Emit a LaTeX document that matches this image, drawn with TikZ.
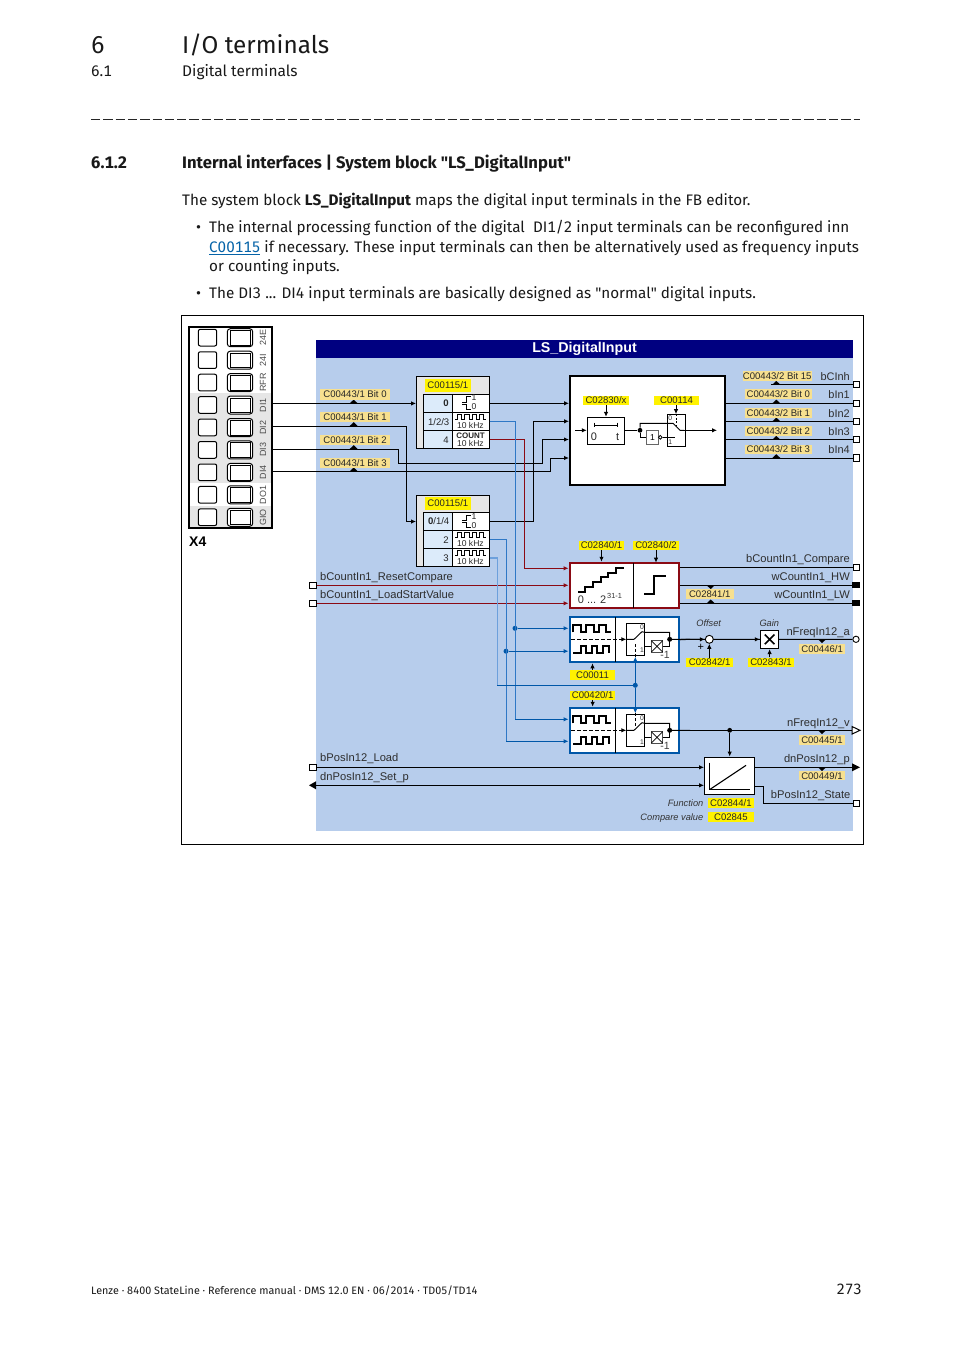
\documentclass[tikz,border=0pt]{standalone}
\usepackage{fontspec}
\setmainfont[Numbers=Monospaced]{Fira Sans}
\newfontfamily\plainq{Fira Sans}
\newfontfamily\ar{Liberation Sans}
\usetikzlibrary{arrows.meta}
\definecolor{bgblue}{HTML}{B7CDEC}
\definecolor{navyhead}{HTML}{000080}
\definecolor{paleyel}{HTML}{F7E08F}
\definecolor{cellblue}{HTML}{DCEBFA}
\definecolor{greyband}{HTML}{E6E6E6}
\definecolor{bdark}{HTML}{0057A8}
\definecolor{bmid}{HTML}{2F78C6}
\definecolor{blight}{HTML}{6DA0DC}
\definecolor{rdark}{HTML}{8B0A14}
\definecolor{linkblue}{HTML}{0563A8}
\tikzset{
  tipin/.style={-{Latex[length=5bp,width=4.5bp]}},
  wire/.style={line width=1bp,draw=black},
  bwire/.style={line width=1bp,draw=bdark},
  mwire/.style={line width=1bp,draw=bmid},
  lwire/.style={line width=1.3bp,draw=blight},
  rwire/.style={line width=1bp,draw=rdark},
  port/.style={draw=black,fill=white,line width=.9bp,minimum size=6.3bp,inner sep=0pt},
  fillport/.style={fill=black,minimum width=7.5bp,minimum height=5.5bp,inner sep=0pt},
  roundport/.style={circle,draw=black,fill=white,line width=.9bp,minimum size=6.3bp,inner sep=0pt},
  junction/.style={circle,fill=black,minimum size=4.8bp,inner sep=0pt},
  bjunction/.style={circle,fill=bdark,minimum size=5bp,inner sep=0pt},
  sig/.style={inner sep=0pt,font=\ar\fontsize{11.2}{12}\selectfont,text=black!82},
  sigl/.style={sig,anchor=base west},
  sigr/.style={sig,anchor=base east},
  ital/.style={inner sep=0pt,font=\ar\itshape\fontsize{9.3}{11}\selectfont,text=black!80},
  lab/.style={inner sep=0pt,font=\ar\fontsize{9.6}{11}\selectfont,text=black!85,text height=6.9bp,text depth=0pt},
  ctext/.style={inner sep=0pt,font=\ar\fontsize{8.6}{10}\selectfont,text=black!85},
  numtxt/.style={inner sep=0pt,anchor=base east,font=\ar\fontsize{9.6}{11}\selectfont,text=black!85},
  term/.style={inner sep=0pt,rotate=90,font=\ar\fontsize{9}{10}\selectfont,text=black!70},
  body/.style={inner sep=0pt,anchor=base west,font=\fontsize{15.3}{18}\selectfont,text=black!90},
}
\newcommand{\yl}[7][yellow]{% name x1 x2 y1 y2 text
  \pgfmathsetmacro\cxx{(#3+#4)/2}\pgfmathsetmacro\cyy{(#5+#6)/2}%
  \pgfmathsetmacro\www{#4-#3}\pgfmathsetmacro\hhh{#6-#5}%
  \node[lab,fill=#1,minimum width=\www bp,minimum height=\hhh bp] (#2) at (\cxx,\cyy) {#7};}
\newcommand{\triup}[2]{\fill[black] (#1-4,#2) -- (#1,#2-3.8) -- (#1+4,#2) -- cycle;}
\newcommand{\tridn}[2]{\fill[black] (#1-4,#2) -- (#1,#2+3.8) -- (#1+4,#2) -- cycle;}
% configuration box: name, y offset
\newcommand{\cfgbox}[3]{%
  \node[draw=black,fill=greyband,line width=.9bp,minimum width=73bp,minimum height=71.6bp,inner sep=0pt] (#1) at (453,412.5+#2) {};
  \begin{scope}[shift={(0,#2)}]
    \fill[cellblue] (423.3,394.3) rectangle (452.3,448.3);
    \fill[white] (452.3,394.3) rectangle (489.7,448.3);
    \draw[line width=.9bp] (423.3,394.3) rectangle (489.7,448.3);
    \draw[line width=.9bp] (423.3,412.3) -- (489.7,412.3) (423.3,430.3) -- (489.7,430.3) (452.3,394.3) -- (452.3,448.3);
    \begin{scope}[shift={(410,370)},x=.33333bp,y=-.33333bp]
      \draw[line width=.9bp] (157,97) -- (170,97) -- (170,80) -- (182,80) (157,103) -- (170,103) -- (170,118) -- (182,118);
      \node[inner sep=0pt,font=\ar\fontsize{8.6}{10}\selectfont,text=black!85] (#1one) at (192,83) {1};
      \node[inner sep=0pt,font=\ar\fontsize{8.6}{10}\selectfont,text=black!85] (#1zero) at (192,111) {0};
    \end{scope}
  \end{scope}}
\newcommand{\pulseicon}[2]{%
  \begin{scope}[shift={(410,370+#2)},x=.33333bp,y=-.33333bp]
    \draw[line width=1bp] (135,147) -- (141,147) -- (141,133) -- (155,133) -- (155,147) -- (162,147) -- (162,133) -- (178,133) -- (178,147) -- (186,147) -- (186,133) -- (200,133) -- (200,147) -- (207,147) -- (207,133) -- (220,133) -- (220,147) -- (228,147);
  \end{scope}
  \node[ctext] (#1) at (470.4,425.3+#2) {10 kHz};}
% inner drawing of a blue block, zoom coordinates
\newcommand{\sigblock}[2]{%
  \begin{scope}[shift={(490,530+#1)},x=.33333bp,y=-.33333bp]
    \draw[line width=.9bp] (377,262) -- (377,396);
    \draw[line width=2bp] (249,307) -- (249,285) -- (272,285) -- (272,307) -- (288,307) -- (288,285) -- (312,285) -- (312,307) -- (328,307) -- (328,285) -- (347,285) -- (347,307) -- (362,307);
    \draw[line width=2bp] (249,369) -- (272,369) -- (272,349) -- (288,349) -- (288,369) -- (305,369) -- (305,349) -- (322,349) -- (322,369) -- (338,369) -- (338,349) -- (358,349) -- (358,369);
    \draw[line width=.9bp,dash pattern=on 4bp off 2bp] (243,328) -- (395,328);
    \draw[line width=.9bp,tipin] (395,328) -- (409,328);
    \draw[line width=.9bp,fill=white] (409,280) rectangle (464,376);
    \draw[line width=.9bp] (409,328) -- (432,328) -- (456,305) -- (464,307) -- (539,307) -- (539,328) -- (600,328);
    \draw[line width=.9bp] (464,348) -- (484,348) (518,348) -- (539,348) -- (539,328);
    \draw[line width=1bp,draw=black!70,fill=white] (484,332) rectangle (518,366);
    \draw[line width=.8bp] (484,332) -- (518,366) (484,366) -- (518,332);
    \fill (539,328) circle (7.5);
    \node[inner sep=0pt,font=\ar\fontsize{6.8}{8}\selectfont,text=black!80] (#2z) at (456,292) {0};
    \node[inner sep=0pt,font=\ar\fontsize{6.8}{8}\selectfont,text=black!80] (#2o) at (456,362) {1};
    \node[inner sep=0pt,font=\ar\fontsize{10.5}{12}\selectfont,text=black!75] (#2m) at (525,376) {-1};
  \end{scope}}
\begin{document}
\begin{tikzpicture}[x=1bp,y=-1bp,line join=miter]
\useasboundingbox (0,0) rectangle (954,1350);
\fill[white] (0,0) rectangle (954,1350);
% ---------- page text
\node[body,font=\fontsize{24.4}{30}\selectfont] (chapn) at (91,54) {6};
\node[body,font=\fontsize{24.4}{30}\selectfont] (chapt) at (182,54) {I/O terminals};
\node[body] (secn) at (91,77) {6.1};
\node[body,font=\fontsize{15.5}{18}\selectfont] (sect) at (182,77) {Digital terminals};
\draw[line width=1bp,black!85,dash pattern=on 9.3bp off 3bp] (91,120) -- (860,120);
\node[body,font=\bfseries\fontsize{16.7}{18}\selectfont] (subn) at (91,169) {6.1.2};
\node[body,font=\bfseries\fontsize{16.7}{18}\selectfont] (subt) at (182,169) {Internal interfaces | System block {\plainq\bfseries "}LS\_DigitalInput{\plainq\bfseries "}};
\node[body] (p1) at (182,206) {The system block \textbf{LS\_DigitalInput} maps the digital input terminals in the FB editor.};
\node[body] (b1) at (196,233) {•};
\node[body] (p2) at (209,233) {The internal processing function of the digital\ \ DI1/2 input terminals can be reconfigured inn};
\node[body] (p3) at (209,252.5) {\textcolor{linkblue}{\underline{C00115}} if necessary. These input terminals can then be alternatively used as frequency inputs};
\node[body] (p4) at (209,271) {or counting inputs.};
\node[body] (b2) at (196,298) {•};
\node[body] (p5) at (209,298) {The DI3 ... DI4 input terminals are basically designed as {\plainq "}normal{\plainq "} digital inputs.};
\node[body,font=\fontsize{10.8}{13}\selectfont] (foot) at (91,1294) {Lenze · 8400 StateLine · Reference manual · DMS 12.0 EN · 06/2014 · TD05/TD14};
\node[body,anchor=base east,font=\fontsize{15}{18}\selectfont] (pageno) at (862,1294) {273};
% ---------- frame and background
\draw[line width=1bp] (181.5,315.5) rectangle (863.5,844.5);
\fill[bgblue] (316,340) rectangle (853,831);
\node[fill=navyhead,minimum width=537bp,minimum height=18bp,inner sep=0pt,text=white,font=\ar\bfseries\fontsize{14.3}{16}\selectfont] (head) at (584.5,349) {LS\_DigitalInput};
% ---------- terminal strip
\fill[greyband] (189,393) rectangle (272,483);
\fill[greyband] (189,506) rectangle (272,528);
\foreach \i/\lbl in {0/24E,1/24I,2/RFR,3/DI1,4/DI2,5/DI3,6/DI4,7/DO1,8/GIO}{
  \begin{scope}[shift={(0,22.45*\i)}]
    \draw[line width=1bp,fill=white,rounded corners=2bp] (198.3,329.3) rectangle (216.7,346);
    \draw[line width=1bp,fill=white,rounded corners=3bp] (227.3,328.7) rectangle (252.7,346.7);
    \draw[line width=1bp] (230,330.7) rectangle (250,345.3);
    \node[term] (t\lbl) at (263,337.7) {\lbl};
  \end{scope}}
\node[draw=black,line width=2bp,minimum width=82.5bp,minimum height=200.5bp,inner sep=0pt] (strip) at (230.4,427.3) {};
\node[inner sep=0pt,anchor=base west,font=\ar\bfseries\fontsize{14}{16}\selectfont] (xfour) at (189,546) {X4};
% ---------- coordinates
\coordinate (oDIa) at (272.5,403.4);
\coordinate (oDIb) at (272.5,426);
\coordinate (oDIc) at (272.5,449);
\coordinate (oDId) at (272.5,471.3);
% blocks (nodes)
\cfgbox{boxa}{0}{}
\cfgbox{boxb}{118.4}{}
\node[draw=black,fill=white,line width=2bp,minimum width=155bp,minimum height=109bp,inner sep=0pt] (main) at (647.5,430.5) {};
\node[draw=rdark,fill=white,line width=2bp,minimum width=109.5bp,minimum height=45.5bp,inner sep=0pt] (redb) at (624.3,585.5) {};
\node[draw=bdark,fill=white,line width=2bp,minimum width=109.5bp,minimum height=45.5bp,inner sep=0pt] (fa) at (624.3,639.5) {};
\node[draw=bdark,fill=white,line width=2bp,minimum width=109.5bp,minimum height=45.5bp,inner sep=0pt] (fb) at (624.3,730.5) {};
\node[draw=black,fill=white,line width=1.4bp,minimum width=50bp,minimum height=37.5bp,inner sep=0pt] (intg) at (729.7,776) {};
% ---------- ports
\node[port] (pInh) at (856.3,384.7) {};
\node[port] (pI1) at (856.3,403.4) {};
\node[port] (pI2) at (856.3,421.4) {};
\node[port] (pI3) at (856.3,439.7) {};
\node[port] (pI4) at (856.3,458) {};
\node[port] (pCmp) at (856.3,567.3) {};
\node[fillport] (pHW) at (856,585) {};
\node[fillport] (pLW) at (856,603) {};
\node[roundport] (pFa) at (856,639.3) {};
\node[port] (pSt) at (856.3,803.3) {};
\node[port] (pRes) at (313,585.3) {};
\node[port] (pLoad) at (313,603.3) {};
\node[port] (pPl) at (313,767.3) {};
\coordinate (pSet) at (316,785.3);
\coordinate (pFv) at (852,730.3);
\coordinate (pDn) at (852,767.3);
\coordinate (sInh) at (771,384.7);
% ---------- wires
\draw[wire,tipin] (oDIa) -- (boxa.west |- oDIa);
\coordinate (kb1) at (406.7,426);
\coordinate (kb2) at (406.7,521.5);
\draw[wire,tipin] (oDIb) -- (kb1) -- (kb2) -- (boxb.west |- kb2);
\coordinate (kc1) at (398,449);
\coordinate (kc2) at (398,463.3);
\coordinate (kc3) at (542.3,463.3);
\coordinate (kc4) at (542.3,439.5);
\draw[wire,tipin] (oDIc) -- (kc1) -- (kc2) -- (kc3) -- (kc4) -- (main.west |- kc4);
\coordinate (kd1) at (550,471.3);
\coordinate (kd2) at (550,458);
\draw[wire,tipin] (oDId) -- (kd1) -- (kd2) -- (main.west |- kd2);
\coordinate (ra) at (489.7,403.3);
\draw[wire,tipin] (ra) -- (main.west |- ra);
\coordinate (rb0) at (489.7,521.5);
\coordinate (rb1) at (533.3,521.5);
\coordinate (rb2) at (533.3,421.3);
\draw[wire,tipin] (rb0) -- (rb1) -- (rb2) -- (main.west |- rb2);
% red
\coordinate (ca0) at (489.7,439.4);
\coordinate (ca1) at (524.3,439.4);
\coordinate (ca2) at (524.3,568.3);
\draw[rwire,tipin] (ca0) -- (ca1) -- (ca2) -- (redb.west |- ca2);
\draw[rwire,tipin] (pRes) -- (redb.west |- pRes);
\draw[rwire,tipin] (pLoad) -- (redb.west |- pLoad);
% blue
\coordinate (ba0) at (489.7,421.7);
\coordinate (ba1) at (515,421.7);
\coordinate (ba3) at (515,719.3);
\node[bjunction] (ja) at (515,628.3) {};
\draw[mwire] (ba0) -- (ba1) -- (ba3);
\draw[bwire,tipin] (ba3) -- (fb.west |- ba3);
\draw[bwire,tipin] (ja) -- (fa.west |- ja);
\coordinate (bb0) at (489.7,539.9);
\coordinate (bb1) at (506,539.9);
\coordinate (bb3) at (506,741.3);
\node[bjunction] (jb) at (506,651.2) {};
\draw[mwire] (bb0) -- (bb1) -- (bb3);
\draw[bwire,tipin] (bb3) -- (fb.west |- bb3);
\draw[bwire,tipin] (jb) -- (fa.west |- jb);
\coordinate (bc0) at (489.7,557.9);
\coordinate (bc1) at (497.3,557.9);
\coordinate (bc2) at (497.3,685.3);
\node[bjunction] (jc) at (635.3,685.3) {};
\draw[lwire] (bc0) -- (bc1) -- (bc2);
\draw[bwire] (bc2) -- (jc);
% outputs
\draw[wire] (sInh) -- (pInh);
\draw[wire] (main.east |- pI1) -- (pI1);
\draw[wire] (main.east |- pI2) -- (pI2);
\draw[wire] (main.east |- pI3) -- (pI3);
\draw[wire] (main.east |- pI4) -- (pI4);
\draw[wire] (redb.east |- pCmp) -- (pCmp);
\draw[wire] (redb.east |- pHW) -- (pHW);
\draw[wire] (redb.east |- pLW) -- (pLW);
\draw[wire] (fa.east) -- (pFa);
\draw[wire] (fb.east |- pFv) -- (pFv);
\node[junction] (jv) at (729.7,730.3) {};
\draw[wire,tipin] (jv) -- (intg.north);
\draw[wire,tipin] (pPl) -- (intg.west |- pPl);
\draw[wire,tipin] (pSet) -- (intg.west |- pSet);
\fill (316,781.3) -- (309,785.3) -- (316,789.3) -- cycle;
\draw[wire] (intg.east |- pDn) -- (pDn);
\fill (852,763.3) -- (860,767.3) -- (852,771.3) -- cycle;
\draw[wire,fill=white] (852,726.5) -- (860,730.3) -- (852,734.1) -- cycle;
\coordinate (s1) at (763.7,786);
\coordinate (s2) at (763.7,803.3);
\draw[wire] (intg.east |- s1) -- (s1) -- (s2) -- (pSt);
% ---------- triangles
\foreach \yy in {403.4,426,449,471.3}{\triup{353.7}{\yy}}
\foreach \yy in {384.7,403.4,421.4,439.7,458}{\triup{776.3}{\yy}}
\tridn{710.7}{585.3}
\triup{710.7}{603.3}
\tridn{822}{639.3}
\tridn{822}{730.3}
\tridn{822}{767.3}
% ---------- labels
\yl[paleyel]{la}{320}{390}{389}{399.6}{C00443/1 Bit 0}
\yl[paleyel]{lb}{320}{390}{412}{422.4}{C00443/1 Bit 1}
\yl[paleyel]{lc}{320}{390}{435}{445}{C00443/1 Bit 2}
\yl[paleyel]{ld}{320}{390}{457.7}{468}{C00443/1 Bit 3}
\yl{cfa}{425}{470.7}{378.5}{391.5}{C00115/1}
\yl{cfb}{425}{470.7}{496.7}{509.7}{C00115/1}
\yl[paleyel]{ri}{742.7}{811.7}{371.3}{380.7}{C00443/2 Bit 15}
\yl[paleyel]{ra}{745}{811.7}{389.3}{399}{C00443/2 Bit 0}
\yl[paleyel]{rb}{745}{811.7}{408}{417.6}{C00443/2 Bit 1}
\yl[paleyel]{rc}{745}{811.7}{426.3}{436}{C00443/2 Bit 2}
\yl[paleyel]{rd}{745}{811.7}{444.7}{454.3}{C00443/2 Bit 3}
% cfg box texts
\node[numtxt] (ta) at (449,406.5) {\textbf{0}};
\node[numtxt] (tb) at (449.5,425) {1/2/3};
\node[numtxt] (tc) at (449,443) {4};
\pulseicon{tka}{0}
\node[ctext,font=\ar\bfseries\fontsize{8}{10}\selectfont] (tcnt) at (470.5,435.3) {COUNT};
\node[ctext] (tkz) at (470.4,443) {10 kHz};
\node[numtxt] (td) at (449.5,524.5) {\textbf{0}/1/4};
\node[numtxt] (te) at (449,543) {2};
\node[numtxt] (tf) at (449,561) {3};
\pulseicon{tkb}{118}
\pulseicon{tkc}{136}
% main block interior
\yl{ct}{583}{629}{395.7}{405}{C02830/x}
\yl{cs}{654}{699}{395.7}{405}{C00114}
\node[draw=black,fill=white,line width=.9bp,minimum width=37.4bp,minimum height=27bp,inner sep=0pt] (timer) at (606,430.8) {};
\draw[wire,tipin] (606,405) -- (timer.north);
\coordinate (tin) at (575,430.3);
\draw[wire,tipin] (tin) -- (timer.west |- tin);
\draw[line width=.9bp] (594,425) -- (617.7,425) (594,422.6) -- (594,427.4) (617.7,422.6) -- (617.7,427.4);
\node[inner sep=0pt,font=\ar\fontsize{11}{12}\selectfont,text=black!85] (t0) at (594,436.5) {0};
\node[inner sep=0pt,font=\ar\fontsize{11}{12}\selectfont,text=black!85] (tt) at (617.7,436.5) {t};
\node[draw=black,fill=white,line width=.9bp,minimum width=18.4bp,minimum height=32.4bp,inner sep=0pt] (sw) at (676.5,430.5) {};
\node[junction] (jt) at (640,430.3) {};
\draw[wire] (timer.east |- jt) -- (jt);
\draw[wire] (jt) -- (640,423.3) -- (673,423.3) -- (680,430.3) -- (684,430.3);
\coordinate (sout) at (717,430.3);
\draw[wire,tipin] (684,430.3) -- (sout);
\node[draw=black!60,fill=white,line width=1bp,minimum width=11.6bp,minimum height=13.6bp,inner sep=0pt,font=\ar\fontsize{8.6}{10}\selectfont] (nt) at (652.5,437.5) {1};
\draw[wire] (jt) -- (640,437.3) -- (nt.west |- 0,437.3);
\node[circle,draw=black,fill=white,line width=.8bp,minimum size=3.8bp,inner sep=0pt] (nc) at (660.3,437.3) {};
\draw[wire] (nc) -- (674.7,437.3);
\draw[wire,tipin] (676,405) -- (676,414.2);
\draw[line width=.9bp,dash pattern=on 2bp off 1.6bp] (676,414.2) -- (676,425.5);
\node[inner sep=0pt,font=\ar\fontsize{6.8}{8}\selectfont,text=black!80] (s0) at (670.3,418.3) {0};
\node[inner sep=0pt,font=\ar\fontsize{6.8}{8}\selectfont,text=black!80] (s1t) at (670.3,442.5) {1};
% red block interior
\yl{cq}{579.3}{623.7}{541}{549.7}{C02840/1}
\yl{cr}{633.3}{678.7}{541}{549.7}{C02840/2}
\draw[wire,tipin] (cq.south) -- (cq.south |- redb.north);
\draw[wire,tipin] (656,549.7) -- (656,562.7);
\begin{scope}[shift={(490,530)},x=.33333bp,y=-.33333bp]
  \draw[line width=.9bp] (431,98) -- (431,235);
  \draw[line width=2bp] (264,187) -- (285,187) -- (285,172) -- (308,172) -- (308,157) -- (332,157) -- (332,142) -- (355,142) -- (355,128) -- (378,128) -- (378,115) -- (402,115);
  \draw[line width=2bp] (462,191) -- (493,191) -- (493,137) -- (527,137);
  \node[inner sep=0pt,anchor=base west,font=\ar\fontsize{11}{12}\selectfont,text=black!80] (rng) at (263,220) {0 ... 2};
  \node[inner sep=0pt,anchor=base west,font=\ar\fontsize{7.4}{9}\selectfont,text=black!80] (rngs) at (351,205) {31-1};
\end{scope}
\yl[paleyel]{cw}{686}{733.6}{589.3}{598.7}{C02841/1}
% blue blocks interior
\sigblock{0}{fai}
\sigblock{91}{fbi}
\yl{co}{570}{615}{670}{679.7}{C00011}
\yl{cu}{570.3}{615}{690.7}{699.7}{C00420/1}
\draw[wire,tipin] (cu.south) -- (cu.south |- fb.north);
\draw[wire,tipin] (co.north) -- (co.north |- fa.south);
\coordinate (ju) at (635.3,656.7);
\coordinate (jd) at (635.3,713.3);
\draw[bwire,tipin] (jc) -- (ju);
\draw[bwire,tipin] (jc) -- (jd);
\draw[line width=.9bp,dash pattern=on 3bp off 2bp] (635.3,656.7) -- (635.3,643);
\draw[line width=.9bp,dash pattern=on 3bp off 2bp] (635.3,713.3) -- (635.3,728);
% offset & gain
\node[circle,draw=black,fill=white,line width=.9bp,minimum size=8bp,inner sep=0pt] (off) at (709.3,639.3) {};
\node[draw=black,fill=white,line width=1bp,minimum width=18.6bp,minimum height=18.6bp,inner sep=0pt] (gain) at (769.6,639.3) {};
\draw[line width=1.6bp] (764.8,634.5) -- (774.4,644.1) (764.8,644.1) -- (774.4,634.5);
\draw[wire,tipin] (fa.east) -- (off);
\draw[wire,tipin] (off) -- (gain);
\draw[wire] (gain) -- (pFa);
\node[inner sep=0pt,font=\ar\fontsize{11}{12}\selectfont] (plus) at (700.7,647.5) {+};
\yl{cg}{686}{733.3}{657.5}{667.2}{C02842/1}
\yl{ch}{748.3}{793.7}{657.5}{667.2}{C02843/1}
\draw[wire,tipin] (709.3,657.5) -- (off.south);
\draw[wire,tipin] (ch.north -| gain) -- (gain.south);
\node[ital] (toff) at (708.7,623.5) {Offset};
\node[ital] (tgain) at (769.3,623.5) {Gain};
\yl[paleyel]{ci}{799.3}{845}{644}{653.6}{C00446/1}
\yl[paleyel]{cj}{799.3}{844.7}{735.3}{744.7}{C00445/1}
\yl[paleyel]{ck}{799.3}{844.7}{771.3}{780.3}{C00449/1}
% integrator interior
\begin{scope}[shift={(640,690)},x=.33333bp,y=-.33333bp]
  \draw[line width=1.1bp] (208,218) -- (208,298) -- (330,298);
  \draw[line width=1.1bp] (210,298) -- (318,226);
\end{scope}
\node[ital,anchor=base east] (tfn) at (703.5,806) {Function};
\node[ital,anchor=base east] (tcv) at (703.5,820) {Compare value};
\yl{cm}{708}{753.7}{798.3}{807.7}{C02844/1}
\yl{cn}{708}{753.7}{812.3}{821.7}{C02845}
% ---------- signal names
\node[sigr,font=\ar\fontsize{11}{12}\selectfont] (nInh) at (850,380) {bCInh};
\node[sigr,font=\ar\fontsize{11}{12}\selectfont] (nI1) at (850,398) {bIn1};
\node[sigr,font=\ar\fontsize{11}{12}\selectfont] (nI2) at (850,417) {bIn2};
\node[sigr,font=\ar\fontsize{11}{12}\selectfont] (nI3) at (850,435) {bIn3};
\node[sigr,font=\ar\fontsize{11}{12}\selectfont] (nI4) at (850,453) {bIn4};
\node[sigr] (nCmp) at (850,562) {bCountIn1\_Compare};
\node[sigr] (nHW) at (850,580) {wCountIn1\_HW};
\node[sigr] (nLW) at (850,598) {wCountIn1\_LW};
\node[sigr] (nFa) at (850,635) {nFreqIn12\_a};
\node[sigr] (nFv) at (850,726) {nFreqIn12\_v};
\node[sigr] (nDn) at (850,762) {dnPosIn12\_p};
\node[sigr] (nSt) at (850.5,798) {bPosIn12\_State};
\node[sigl] (nRes) at (320,580) {bCountIn1\_ResetCompare};
\node[sigl] (nLoad) at (320,598) {bCountIn1\_LoadStartValue};
\node[sigl] (nPl) at (320,761) {bPosIn12\_Load};
\node[sigl] (nSet) at (320,780) {dnPosIn12\_Set\_p};
\end{tikzpicture}
\end{document}
